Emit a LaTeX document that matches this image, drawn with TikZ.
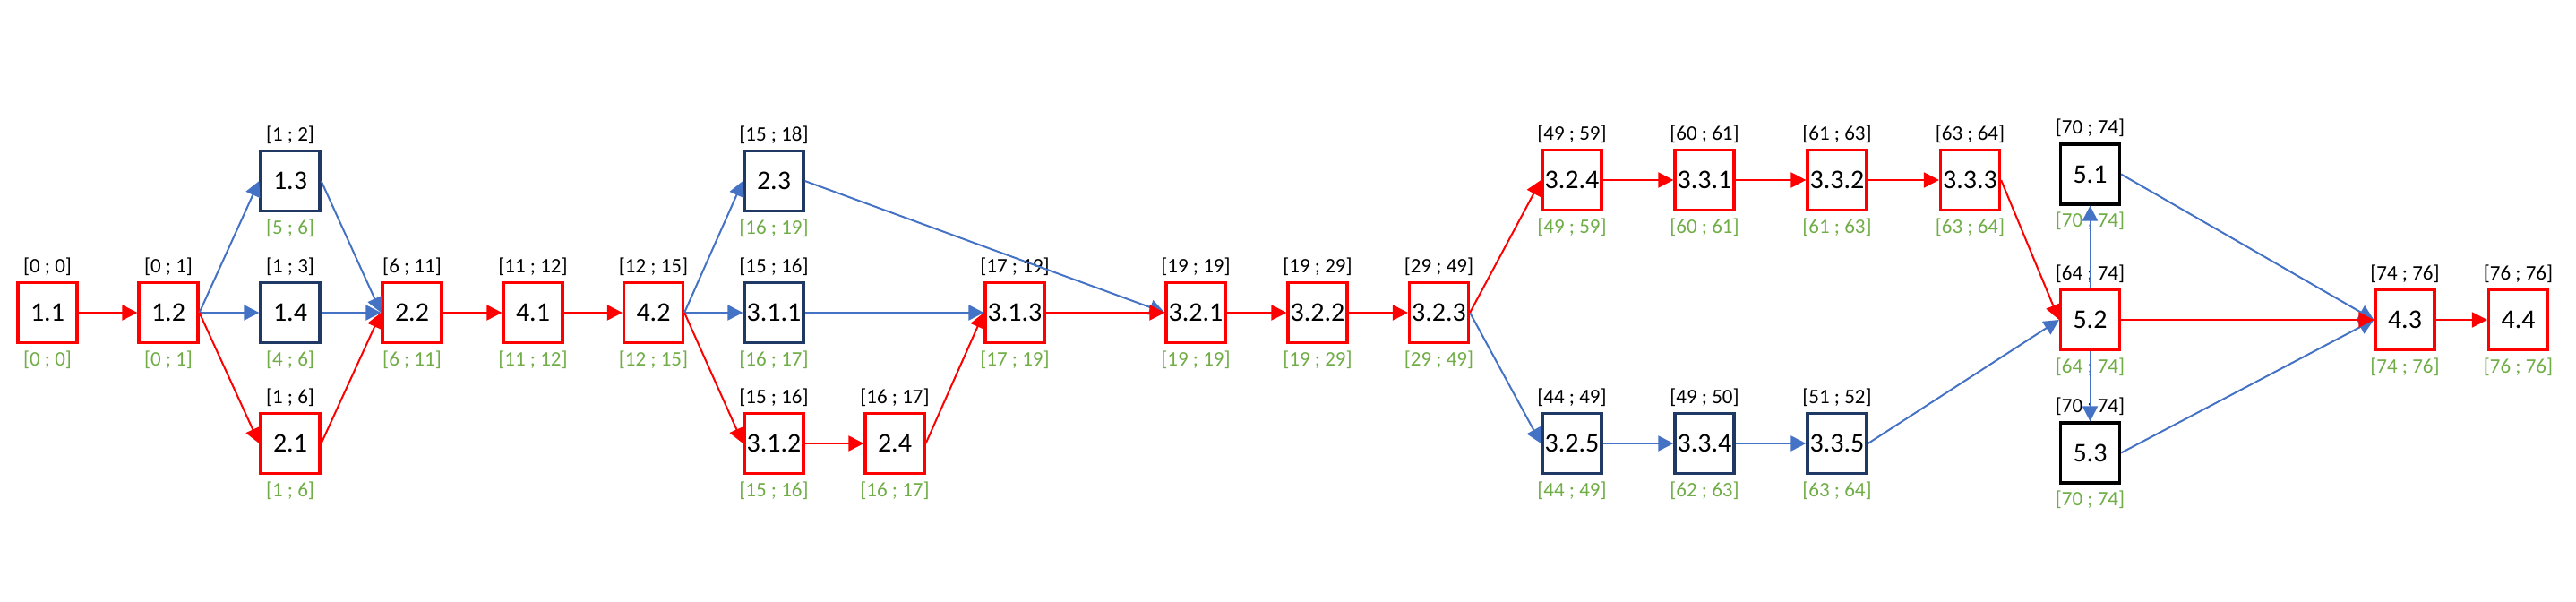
\documentclass[tikz,border=0pt]{standalone}
\usepackage{fontspec}
\setmainfont{Carlito}
\usepackage{tikz}
\usetikzlibrary{positioning,arrows.meta}
\definecolor{critred}{HTML}{FF0000}
\definecolor{darkbox}{HTML}{1F3864}
\definecolor{linkblue}{HTML}{4472C4}
\definecolor{lategreen}{HTML}{70AD47}

\begin{document}
\begin{tikzpicture}
    \tikzstyle{task}=[draw, line width=1.6pt, minimum width=33pt, minimum height=33.5pt, inner sep=0pt, font=\fontsize{15}{18}\selectfont, on grid]
    \tikzstyle{crit}=[task, draw=critred]
    \tikzstyle{slack}=[task, draw=darkbox]
    \tikzstyle{spare}=[task, draw=black]
    \tikzstyle{early}=[font=\fontsize{11.5}{13}\selectfont, inner sep=0pt, label distance=3pt]
    \tikzstyle{late}=[early, text=lategreen, label distance=3.5pt]
    \tikzset{dates/.style 2 args={label={[early]above:{#1}}, label={[late]below:{#2}}}}
    \tikzstyle{critlink}=[draw=critred, line width=1pt, -{Triangle[length=8.5pt,width=8.5pt]}]
    \tikzstyle{link}=[draw=linkblue, line width=1pt, -{Triangle[length=8.5pt,width=8.5pt]}]

    \useasboundingbox (0,0) rectangle (1438pt,-336pt);

    \node[crit,dates={[0 ; 0]}{[0 ; 0]}] (n11) at (26.5pt,-174.5pt) {1.1};
    \node[crit,dates={[0 ; 1]}{[0 ; 1]},right=67.5pt of n11] (n12) {1.2};
    \node[slack,dates={[1 ; 3]}{[4 ; 6]},right=68pt of n12] (n14) {1.4};
    \node[slack,dates={[1 ; 2]}{[5 ; 6]},above=73.5pt of n14] (n13) {1.3};
    \node[crit,dates={[1 ; 6]}{[1 ; 6]},below=73pt of n14] (n21) {2.1};
    \node[crit,dates={[6 ; 11]}{[6 ; 11]},right=68pt of n14] (n22) {2.2};
    \node[crit,dates={[11 ; 12]}{[11 ; 12]},right=67.5pt of n22] (n41) {4.1};
    \node[crit,dates={[12 ; 15]}{[12 ; 15]},right=67.25pt of n41] (n42) {4.2};

    \node[slack,dates={[15 ; 16]}{[16 ; 17]},right=67.25pt of n42] (n311) {3.1.1};
    \node[slack,dates={[15 ; 18]}{[16 ; 19]},above=73.5pt of n311] (n23) {2.3};
    \node[crit,dates={[15 ; 16]}{[15 ; 16]},below=73pt of n311] (n312) {3.1.2};
    \node[crit,dates={[16 ; 17]}{[16 ; 17]},right=67.5pt of n312] (n24) {2.4};
    \node[crit,dates={[17 ; 19]}{[17 ; 19]},right=134.5pt of n311] (n313) {3.1.3};

    \node[crit,dates={[19 ; 19]}{[19 ; 19]},right=101pt of n313] (n321) {3.2.1};
    \node[crit,dates={[19 ; 29]}{[19 ; 29]},right=68pt of n321] (n322) {3.2.2};
    \node[crit,dates={[29 ; 49]}{[29 ; 49]},right=67.75pt of n322] (n323) {3.2.3};
    \node[crit,dates={[49 ; 59]}{[49 ; 59]},above right=74pt and 74.25pt of n323] (n324) {3.2.4};
    \node[slack,dates={[44 ; 49]}{[44 ; 49]},below right=73pt and 74.25pt of n323] (n325) {3.2.5};
    \node[crit,dates={[60 ; 61]}{[60 ; 61]},right=74pt of n324] (n331) {3.3.1};
    \node[crit,dates={[61 ; 63]}{[61 ; 63]},right=74pt of n331] (n332) {3.3.2};
    \node[crit,dates={[63 ; 64]}{[63 ; 64]},right=74.25pt of n332] (n333) {3.3.3};
    \node[slack,dates={[49 ; 50]}{[62 ; 63]},right=74pt of n325] (n334) {3.3.4};
    \node[slack,dates={[51 ; 52]}{[63 ; 64]},right=74pt of n334] (n335) {3.3.5};

    \node[crit,dates={[64 ; 74]}{[64 ; 74]},below right=4pt and 363.5pt of n323] (n52) {5.2};
    \node[spare,dates={[70 ; 74]}{[70 ; 74]},above=81.25pt of n52] (n51) {5.1};
    \node[spare,dates={[70 ; 74]}{[70 ; 74]},below=74.25pt of n52] (n53) {5.3};
    \node[crit,dates={[74 ; 76]}{[74 ; 76]},right=175.75pt of n52] (n43) {4.3};
    \node[crit,dates={[76 ; 76]}{[76 ; 76]},right=63.25pt of n43] (n44) {4.4};

    % non-critical links
    \draw[link] (n12.east) -- (n13.west);
    \draw[link] (n12.east) -- (n14.west);
    \draw[link] (n13.east) -- (n22.west);
    \draw[link] (n14.east) -- (n22.west);
    \draw[link] (n42.east) -- (n23.west);
    \draw[link] (n42.east) -- (n311.west);
    \draw[link] (n23.east) -- (n321.west);
    \draw[link] (n311.east) -- (n313.west);
    \draw[link] (n323.east) -- (n325.west);
    \draw[link] (n325.east) -- (n334.west);
    \draw[link] (n334.east) -- (n335.west);
    \draw[link] (n335.east) -- (n52.west);
    \draw[link] (n52.north) -- (n51.south);
    \draw[link] (n52.south) -- (n53.north);
    \draw[link] (n51.east) -- (n43.west);
    \draw[link] (n53.east) -- (n43.west);

    % critical path
    \draw[critlink] (n11.east) -- (n12.west);
    \draw[critlink] (n12.east) -- (n21.west);
    \draw[critlink] (n21.east) -- (n22.west);
    \draw[critlink] (n22.east) -- (n41.west);
    \draw[critlink] (n41.east) -- (n42.west);
    \draw[critlink] (n42.east) -- (n312.west);
    \draw[critlink] (n312.east) -- (n24.west);
    \draw[critlink] (n24.east) -- (n313.west);
    \draw[critlink] (n313.east) -- (n321.west);
    \draw[critlink] (n321.east) -- (n322.west);
    \draw[critlink] (n322.east) -- (n323.west);
    \draw[critlink] (n323.east) -- (n324.west);
    \draw[critlink] (n324.east) -- (n331.west);
    \draw[critlink] (n331.east) -- (n332.west);
    \draw[critlink] (n332.east) -- (n333.west);
    \draw[critlink] (n333.east) -- (n52.west);
    \draw[critlink] (n52.east) -- (n43.west);
    \draw[critlink] (n43.east) -- (n44.west);
\end{tikzpicture}
\end{document}
